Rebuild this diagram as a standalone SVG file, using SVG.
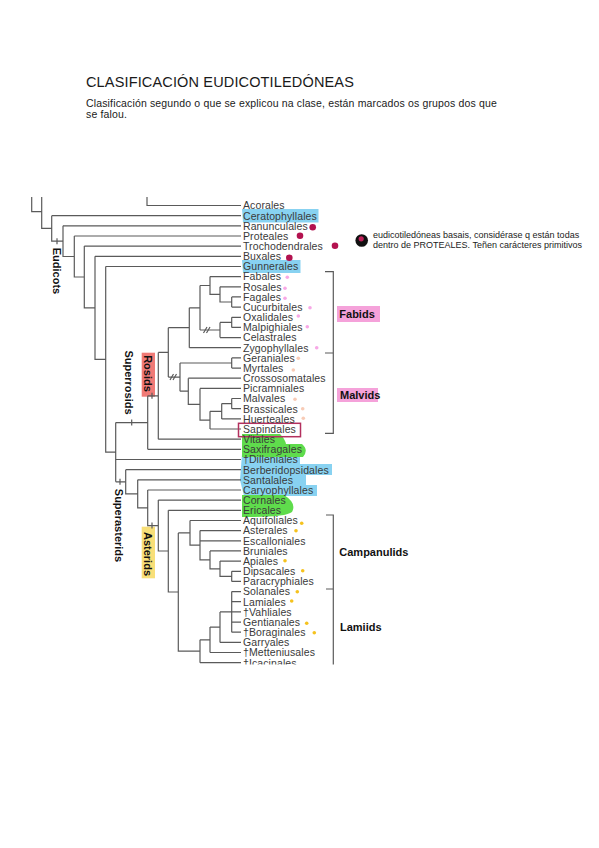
<svg xmlns="http://www.w3.org/2000/svg" width="599" height="848" viewBox="0 0 599 848">
<defs>
<style>
.ttl{font-family:"Liberation Sans",Arial,sans-serif;font-size:14.5px;letter-spacing:0.15px;fill:#1a1a1a}
.sub{font-family:"Liberation Sans",Arial,sans-serif;font-size:10.5px;letter-spacing:0.15px;fill:#1a1a1a}
.br{stroke:#5a5a5a;stroke-width:1.2;fill:none}
.lb{font-family:"Liberation Sans",Arial,sans-serif;font-size:10.5px;letter-spacing:0.1px;fill:#3a3a3a}
.cl{font-family:"Liberation Sans",Arial,sans-serif;font-size:11px;font-weight:bold;fill:#111}
.lg{font-family:"Liberation Sans",Arial,sans-serif;font-size:9px;fill:#222}
.hb{fill:#88d2f1}
.hg{fill:#5fdc4c}
.hp{fill:#f5a2da}
.dm{fill:#b3124f}
.dp{fill:#f7a8e6}
.do{fill:#f8cbb6}
.dy{fill:#f5c21e}
</style>
<clipPath id="img"><rect x="25" y="196.5" width="400" height="468"/></clipPath>
</defs>
<rect width="599" height="848" fill="#fff"/>
<g id="title">
<text class="ttl" x="86" y="86.7">CLASIFICACIÓN EUDICOTILEDÓNEAS</text>
<text class="sub" x="86" y="106.7">Clasificación segundo o que se explicou na clase, están marcados os grupos dos que</text>
<text class="sub" x="86" y="117.6">se falou.</text>
</g>
<g clip-path="url(#img)">
<g id="highlights">
<path class="hb" d="M242,209H318.5V222.5H243Z"/>
<path class="hb" d="M242,260H300.5V273H243Z"/>
<path class="hb" d="M242,454H300V464H332V475H306V485H317V496H244L240,480Z"/>
<path class="hg" d="M242,434H280Q285,439 286,444H302Q309,450 303,457H242Z"/>
<path class="hg" d="M242,495H284Q297,503 292,512Q286,517 250,517H242Z"/>
<rect class="hp" x="337" y="306" width="43" height="16"/>
<rect class="hp" x="337" y="388" width="41" height="14"/>
<rect x="141.7" y="352.7" width="13.3" height="44" fill="#f07a76"/>
<rect x="141.7" y="526.7" width="13.3" height="51.6" fill="#f8df78"/>
</g>
<g id="connectors" class="br">
<path d="M147,197V205.5H241M51.7,215.7H241M63,225.8H241M74.3,236H241M84.3,246.1H241M95,256.3H241M105.7,266.5H241M210,276.6H241M220,286.8H241M231.7,296.9H241M231.7,307.1H241M231.7,317.3H241M231.7,327.4H241M220,337.6H241M189.3,347.7H241M231.7,357.9H241M231.7,368.1H241M188.3,378.2H241M200,388.4H241M231.7,398.5H241M231.7,408.7H241M221.7,418.9H241M210,429H241M158.3,439.2H241M147.7,449.3H241M115.7,459.5H241M125.7,469.7H241M137.7,479.8H241M147.7,490H241M158.3,500.1H241M168.3,510.3H241M190,520.5H241M200,530.6H241M200,540.8H241M210,550.9H241M220,561.1H241M231.7,571.3H241M231.7,581.4H241M231.7,591.6H241M231.7,601.7H241M231.7,611.9H241M231.7,622.1H241M231.7,632.2H241M220,642.4H241M210,652.5H241M200,662.7H241"/>
<path d="M31.7,197V211.7H41.7M41.7,197V228.4H51.7M51.7,215.7V241.2H63M63,225.8V256.5H74.3M74.3,236V277H84.3M84.3,246.1V307.8H95M95,256.3V359.4H105.7M105.7,266.5V452.2H115.7M115.7,422.6V481.8M115.7,422.6H147.7M115.7,481.8H125.7M147.7,395.8V449.3M147.7,395.8H158.3M158.3,352.4V439.2M158.3,352.4H168.3M168.3,327.7V377.1M168.3,327.7H189.3M168.3,377.1H180M189.3,307.8V347.7M189.3,307.8H200M200,285.5V330M200,285.5H210M200,330H220M210,276.6V294.4H220M220,286.8V302H231.7M231.7,296.9V307.1M220,322.4V337.6M220,322.4H231.7M231.7,317.3V327.4M180,363V391.2M180,363H231.7M180,391.2H188.3M231.7,357.9V368.1M188.3,378.2V404.3H200M200,388.4V420.1H210M210,411.3V429M210,411.3H221.7M221.7,403.6V418.9M221.7,403.6H231.7M231.7,398.5V408.7"/>
<path d="M125.7,469.7V493.8H137.7M137.7,479.8V507.8H147.7M147.7,490V525.6H158.3M158.3,500.1V551H168.3M168.3,510.3V592H178.3M178.3,532.9V651.2H200M178.3,532.9H190M190,520.5V545.2H200M200,530.6V559.9H210M210,550.9V568.8H220M220,561.1V576.4H231.7M231.7,571.3V581.4M200,639.8V662.7M200,639.8H210M210,627.1V652.5M210,627.1H220M220,611.9V642.4M220,611.9H231.7M231.7,591.6V632.2"/>
<path d="M57,238.2V244.2M131.7,419.6V425.6M152,392.8V398.8M120,478.8V484.8M152,522.6V528.6"/>
<path d="M203.5,333L207,327M206.5,333L210,327M170,380L173.5,374M173,380L176.5,374"/>
<path d="M325,271.7H333.3V433.3H325M325,353H333.3M326,515H333.3V666M326,589H333.3"/>
</g>
<g id="sapindales-box"><rect x="238.5" y="423.3" width="62" height="13.4" fill="none" stroke="#b3305e" stroke-width="1.5"/></g>
<g id="taxa">
<g id="acorales"><text class="lb" x="243" y="209.3">Acorales</text></g>
<g id="ceratophyllales"><text class="lb" x="243" y="219.5">Ceratophyllales</text></g>
<g id="ranunculales"><text class="lb" x="243" y="229.6">Ranunculales</text><circle class="dm" cx="312.7" cy="227.3" r="3.3"/></g>
<g id="proteales"><text class="lb" x="243" y="239.8">Proteales</text><circle class="dm" cx="300" cy="235.7" r="3.3"/></g>
<g id="trochodendrales"><text class="lb" x="243" y="249.9">Trochodendrales</text><circle class="dm" cx="335" cy="245.7" r="3.3"/></g>
<g id="buxales"><text class="lb" x="243" y="260.1">Buxales</text><circle class="dm" cx="289.3" cy="257.7" r="3.3"/></g>
<g id="gunnerales"><text class="lb" x="243" y="270.3">Gunnerales</text></g>
<g id="fabales"><text class="lb" x="243" y="280.4">Fabales</text><circle class="dp" cx="287.3" cy="277.3" r="1.8"/></g>
<g id="rosales"><text class="lb" x="243" y="290.6">Rosales</text><circle class="dp" cx="285" cy="288.3" r="1.8"/></g>
<g id="fagales"><text class="lb" x="243" y="300.7">Fagales</text><circle class="dp" cx="285" cy="298.3" r="1.8"/></g>
<g id="cucurbitales"><text class="lb" x="243" y="310.9">Cucurbitales</text><circle class="dp" cx="310" cy="307.7" r="1.8"/></g>
<g id="oxalidales"><text class="lb" x="243" y="321.1">Oxalidales</text><circle class="dp" cx="298.3" cy="316" r="1.8"/></g>
<g id="malpighiales"><text class="lb" x="243" y="331.2">Malpighiales</text><circle class="dp" cx="307.3" cy="326.7" r="1.8"/></g>
<g id="celastrales"><text class="lb" x="243" y="341.4">Celastrales</text></g>
<g id="zygophyllales"><text class="lb" x="243" y="351.5">Zygophyllales</text><circle class="dp" cx="316.7" cy="347.7" r="1.8"/></g>
<g id="geraniales"><text class="lb" x="243" y="361.7">Geraniales</text><circle class="do" cx="298.3" cy="358.3" r="1.8"/></g>
<g id="myrtales"><text class="lb" x="243" y="371.9">Myrtales</text><circle class="do" cx="293.3" cy="370" r="1.8"/></g>
<g id="crossosomatales"><text class="lb" x="243" y="382">Crossosomatales</text></g>
<g id="picramniales"><text class="lb" x="243" y="392.2">Picramniales</text></g>
<g id="malvales"><text class="lb" x="243" y="402.3">Malvales</text><circle class="do" cx="295" cy="399.3" r="1.8"/></g>
<g id="brassicales"><text class="lb" x="243" y="412.5">Brassicales</text><circle class="do" cx="302.7" cy="408.7" r="1.8"/></g>
<g id="huerteales"><text class="lb" x="243" y="422.7">Huerteales</text><circle class="do" cx="303.3" cy="418.3" r="1.8"/></g>
<g id="sapindales"><text class="lb" x="243" y="432.8">Sapindales</text></g>
<g id="vitales"><text class="lb" x="243" y="443">Vitales</text></g>
<g id="saxifragales"><text class="lb" x="243" y="453.1">Saxifragales</text></g>
<g id="dilleniales"><text class="lb" x="243" y="463.3">†Dilleniales</text></g>
<g id="berberidopsidales"><text class="lb" x="243" y="473.5">Berberidopsidales</text></g>
<g id="santalales"><text class="lb" x="243" y="483.6">Santalales</text></g>
<g id="caryophyllales"><text class="lb" x="243" y="493.8">Caryophyllales</text></g>
<g id="cornales"><text class="lb" x="243" y="503.9">Cornales</text></g>
<g id="ericales"><text class="lb" x="243" y="514.1">Ericales</text></g>
<g id="aquifoliales"><text class="lb" x="243" y="524.3">Aquifoliales</text><circle class="dy" cx="301.7" cy="523.3" r="1.8"/></g>
<g id="asterales"><text class="lb" x="243" y="534.4">Asterales</text><circle class="dy" cx="296" cy="530.7" r="1.8"/></g>
<g id="escalloniales"><text class="lb" x="243" y="544.6">Escalloniales</text></g>
<g id="bruniales"><text class="lb" x="243" y="554.7">Bruniales</text></g>
<g id="apiales"><text class="lb" x="243" y="564.9">Apiales</text><circle class="dy" cx="285" cy="560.7" r="1.8"/></g>
<g id="dipsacales"><text class="lb" x="243" y="575.1">Dipsacales</text><circle class="dy" cx="302.7" cy="570.7" r="1.8"/></g>
<g id="paracryphiales"><text class="lb" x="243" y="585.2">Paracryphiales</text></g>
<g id="solanales"><text class="lb" x="243" y="595.4">Solanales</text><circle class="dy" cx="297.3" cy="591.7" r="1.8"/></g>
<g id="lamiales"><text class="lb" x="243" y="605.5">Lamiales</text><circle class="dy" cx="291.7" cy="601" r="1.8"/></g>
<g id="vahliales"><text class="lb" x="243" y="615.7">†Vahliales</text></g>
<g id="gentianales"><text class="lb" x="243" y="625.9">Gentianales</text><circle class="dy" cx="306.7" cy="623.3" r="1.8"/></g>
<g id="boraginales"><text class="lb" x="243" y="636">†Boraginales</text><circle class="dy" cx="314.3" cy="632.7" r="1.8"/></g>
<g id="garryales"><text class="lb" x="243" y="646.2">Garryales</text></g>
<g id="metteniusales"><text class="lb" x="243" y="656.3">†Metteniusales</text></g>
<g id="icacinales"><text class="lb" x="243" y="666.5">†Icacinales</text></g>
</g>
<g id="clades">
<text class="cl" transform="translate(53,271) rotate(90)" text-anchor="middle">Eudicots</text>
<text class="cl" transform="translate(125.3,382.5) rotate(90)" text-anchor="middle">Superrosids</text>
<text class="cl" transform="translate(144.3,373.5) rotate(90)" text-anchor="middle">Rosids</text>
<text class="cl" transform="translate(115.3,525.5) rotate(90)" text-anchor="middle">Superasterids</text>
<text class="cl" transform="translate(144.3,554) rotate(90)" text-anchor="middle">Asterids</text>
<text class="cl" x="339.3" y="318">Fabids</text>
<text class="cl" x="340" y="399">Malvids</text>
<text class="cl" x="339.3" y="555.5">Campanulids</text>
<text class="cl" x="340" y="631">Lamiids</text>
</g>
</g>
<g id="legend">
<circle cx="361.7" cy="240.5" r="6.3" fill="#111"/>
<circle cx="361.2" cy="238.8" r="2.6" fill="#c0205a"/>
<text class="lg" x="373" y="238.4">eudicotiledóneas basais, considérase q están todas</text>
<text class="lg" x="373" y="248">dentro de PROTEALES. Teñen carácteres primitivos</text>
</g>
</svg>
